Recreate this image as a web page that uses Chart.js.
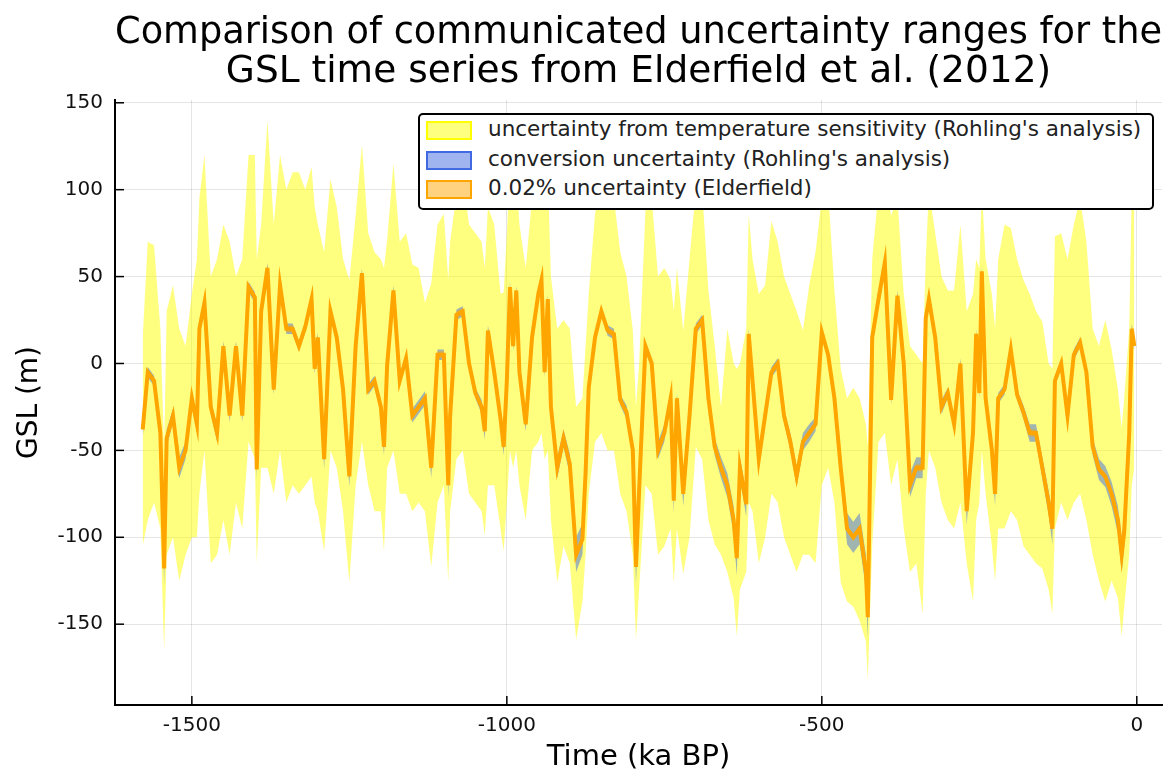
<!DOCTYPE html>
<html>
<head>
<meta charset="utf-8">
<title>GSL uncertainty ranges</title>
<script src="https://cdn.jsdelivr.net/npm/chart.js@4.4.1/dist/chart.umd.min.js"></script>
<style>
    html, body { margin: 0; padding: 0; background: #fff; }
    #wrap { position: relative; width: 1171px; height: 773px; }
    #leyenda {
        position: absolute; left: 418px; top: 113px; width: 732px; height: 93px;
        border: 2px solid #000; border-radius: 5px; background: #fff;
        font-family: 'DejaVu Sans'; font-size: 21.5px; color: #222;
    }
    .item { position: absolute; left: 6px; height: 20px; }
    .sw { position: absolute; left: 0; top: 0; width: 42px; height: 15px; border: 2px solid; }
    .lbl { position: absolute; left: 62px; top: -5px; white-space: nowrap; }
</style>
</head>
<body>
<div id="wrap">
    <canvas id="grafico" width="1171" height="773"></canvas>
    <div id="leyenda"></div>
</div>
<script>
// time in ka BP (negative = past)
const time = [
    -1578, -1570, -1560, -1550, -1544, -1540, -1530, -1520, -1510, -1500, -1492, -1488, -1480, -1470, -1460, -1450, -1440, -1430, -1420, -1410, -1400, -1397, -1390, -1380, -1370, -1360, -1350, -1340,
    -1330, -1320, -1310, -1305, -1300, -1290, -1280, -1270, -1260, -1250, -1240, -1230, -1220, -1210, -1200, -1195, -1190, -1180, -1170, -1160, -1150, -1140, -1130, -1120, -1110, -1100, -1093, -1090, -1080, -1070,
    -1060, -1050, -1040, -1035, -1030, -1020, -1010, -1005, -1000, -995, -990, -985, -980, -970, -960, -950, -945, -940, -935, -930, -920, -910, -900, -890, -880, -875, -870, -860, -850, -840, -830, -820, -810, -800, -795, -790, -780,
    -770, -760, -750, -740, -735, -730, -720, -710, -700, -690, -680, -670, -660, -650, -640, -635, -630, -620, -616, -610, -600, -590, -580, -570, -560, -550, -540, -530, -520, -510,
    -500, -490, -480, -470, -460, -450, -440, -430, -427, -420, -410, -400, -390, -380, -370, -360, -350, -340, -335, -330, -320, -310, -300, -290, -280, -270, -260, -255, -250, -246, -240, -230, -225,
    -220, -210, -200, -190, -180, -170, -160, -150, -140, -134, -130, -120, -110, -100, -90, -80, -70, -60, -50, -40, -30, -24, -20, -12, -8, -4
]
// GSL (m), Elderfield et al. (2012)
const gsl = [
    -38, -5, -10, -40, -118, -43, -30, -60, -50, -20, -35, 20, 35, -25, -40, 10, -30, 10, -30, 44, 38, -61, 30, 55, -15, 45, 20, 20,
    10, 21, 37, -3, 15, -55, 30, 15, -15, -65, 10, 52, -15, -10, -25, -48, -1, 42, -10, 3, -30, -25, -20, -60, 5, 5, -70, -30, 28, 30,
    0, -17, -25, -39, 19, -5, -32, -48, -10, 44, 10, 42, -5, -35, 15, 40, 48, -5, 37, -25, -60, -43, -58, -110, -101, -63, -14, 15, 30, 19, 17, -21, -28, -50, -117, -73, 10,
    0, -50, -40, -20, -79, -20, -75, -30, 20, 25, -20, -48, -60, -70, -90, -112, -60, -81, 17, -10, -55, -30, -5, 0, -30, -45, -65, -45, -40, -35,
    18, 5, -20, -60, -95, -100, -95, -120, -146, 15, 37, 58, -21, 39, 0, -70, -60, -60, 26, 37, 15, -25, -17, -35, 0, -85, -40, 17, -17, 53, -20, -50, -75,
    -20, -15, 8, -18, -28, -40, -40, -60, -80, -95, -10, 0, -30, 5, 12, -5, -48, -61, -65, -75, -90, -110, -97, -40, 20, 10
]
// temperature sensitivity range (upper / lower edge, m)
const tempHi = [
    15, 70, 68, 20, -50, 30, 45, 20, 10, 40, 60, 95, 120, 50, 60, 80, 70, 50, 60, 120, 120, 60, 80, 140, 80, 120, 100, 110,
    110, 100, 113, 90, 80, 64, 106, 90, 60, 48, 85, 126, 75, 64, 60, 55, 71, 115, 70, 75, 57, 55, 35, 46, 80, 86, 48, 70, 97, 108,
    80, 75, 70, 55, 90, 80, 40, 41, 75, 110, 90, 110, 80, 55, 95, 120, 125, 100, 110, 50, 20, 25, 20, -25, -20, 10, 40, 86, 105, 100, 95, 64, 50, 19, -25, 0, 88,
    95, 50, 55, 48, 30, 55, 19, 60, 100, 100, 42, 10, -25, 20, 0, -3, 0, 20, 86, 60, 40, 45, 82, 70, 50, 40, 30, 19, 45, 64,
    95, 100, 42, -3, -20, -14, -20, -35, -48, 60, 100, 110, 85, 95, 40, 10, 5, 0, 60, 100, 75, 50, 42, 42, 80, 30, 40, 60, 55, 100, 60, 40, 20,
    60, 80, 78, 60, 48, 40, 30, 24, 0, -3, 73, 75, 60, 80, 95, 70, 20, 10, 25, 8, -15, -37, -20, 20, 100, 95
]
const tempLo = [
    -105, -90, -80, -95, -165, -110, -100, -125, -110, -100, -100, -75, -50, -115, -110, -90, -110, -80, -95, -45, -55, -115, -60, -60, -75, -50, -80, -70,
    -75, -70, -65, -80, -85, -108, -50, -60, -85, -126, -70, -45, -70, -85, -85, -108, -60, -50, -75, -75, -85, -80, -85, -117, -80, -70, -126, -85, -55, -50,
    -75, -80, -85, -99, -70, -70, -95, -108, -80, -50, -60, -50, -70, -90, -50, -45, -40, -55, -50, -90, -126, -105, -115, -159, -137, -110, -75, -45, -40, -50, -50, -75, -85, -110, -159, -130, -70,
    -75, -110, -105, -95, -126, -95, -121, -100, -48, -55, -90, -104, -110, -120, -135, -157, -130, -120, -80, -85, -115, -100, -75, -80, -100, -110, -120, -110, -110, -115,
    -70, -60, -80, -126, -137, -140, -148, -160, -182, -105, -45, -40, -70, -55, -95, -120, -115, -144, -75, -50, -60, -80, -90, -95, -80, -115, -137, -90, -80, -50, -75, -105, -125,
    -95, -95, -85, -90, -105, -110, -115, -118, -130, -144, -95, -80, -90, -80, -75, -90, -110, -125, -137, -125, -135, -157, -140, -110, -70, -60
]
// conversion uncertainty (+/- m)
const convErr = [
    5, 3, 3, 5, 10, 5, 4, 6, 5, 4, 4, 3, 3, 4, 5, 3, 4, 3, 4, 3, 3, 6, 3, 3, 3, 3, 3, 3,
    3, 3, 3, 3, 3, 6, 3, 3, 3, 6, 3, 3, 3, 3, 4, 5, 3, 3, 3, 3, 4, 4, 4, 6, 3, 3, 7, 4, 3, 3,
    3, 3, 4, 5, 3, 3, 4, 5, 3, 3, 3, 3, 3, 4, 3, 3, 3, 3, 3, 4, 6, 5, 6, 10, 9, 6, 3, 3, 3, 3, 3, 3, 4, 5, 10, 7, 3,
    3, 5, 5, 3, 7, 3, 7, 4, 3, 3, 3, 5, 6, 7, 8, 10, 6, 7, 3, 3, 6, 4, 3, 3, 4, 5, 6, 5, 5, 4,
    3, 3, 3, 6, 9, 9, 9, 10, 12, 3, 3, 3, 3, 3, 3, 7, 6, 6, 3, 3, 3, 4, 3, 4, 3, 8, 5, 3, 3, 3, 3, 5, 7,
    3, 3, 3, 3, 4, 5, 5, 6, 7, 9, 3, 3, 4, 3, 3, 3, 5, 6, 6, 7, 8, 10, 9, 5, 3, 3
]
// 0.02% uncertainty (+/- m)
const elderErr = 2

const xTicks = [-1500, -1000, -500, 0]
const yTicks = [-150, -100, -50, 0, 50, 100, 150]
const titulo = ['Comparison of communicated uncertainty ranges for the', 'GSL time series from Elderfield et al. (2012)']

const pts = (ys) => time.map((t, i) => ({ x: t, y: ys[i] }))
const banda = (label, ys, fondo, borde, relleno) => ({
    label: label, data: pts(ys), fill: relleno ? '+1' : false,
    backgroundColor: fondo, borderColor: 'rgba(0,0,0,0)', borderWidth: 0,
    pointRadius: 0, tension: 0, legendBorder: borde
})

const datasets = [
    { label: 'GSL', data: pts(gsl), borderColor: '#ffa500', borderWidth: 4, pointRadius: 0, fill: false, tension: 0 },
    banda('0.02% uncertainty (Elderfield)', gsl.map(v => v + elderErr), 'rgba(255,165,0,0.5)', '#ffa500', true),
    banda('', gsl.map(v => v - elderErr), 'rgba(0,0,0,0)', null, false),
    banda("conversion uncertainty (Rohling's analysis)", gsl.map((v, i) => v + convErr[i]), 'rgba(65,105,225,0.5)', '#4169e1', true),
    banda('', gsl.map((v, i) => v - convErr[i]), 'rgba(0,0,0,0)', null, false),
    banda("uncertainty from temperature sensitivity (Rohling's analysis)", tempHi, 'rgba(255,255,0,0.5)', '#ffff00', true),
    banda('', tempLo, 'rgba(0,0,0,0)', null, false)
]

const innerTicks = {
    id: 'innerTicks',
    afterDraw(chart) {
        const { ctx, chartArea: a, scales: { x, y } } = chart
        ctx.save()
        ctx.strokeStyle = '#000'
        ctx.lineWidth = 1.5
        xTicks.forEach(v => {
            const px = x.getPixelForValue(v)
            ctx.beginPath(); ctx.moveTo(px, a.bottom); ctx.lineTo(px, a.bottom - 9); ctx.stroke()
        })
        yTicks.forEach(v => {
            const py = y.getPixelForValue(v)
            ctx.beginPath(); ctx.moveTo(a.left, py); ctx.lineTo(a.left + 9, py); ctx.stroke()
        })
        ctx.restore()
    }
}

const fuente = 'DejaVu Sans'
const chart = new Chart(document.getElementById('grafico'), {
    type: 'line',
    data: { datasets: datasets },
    plugins: [innerTicks],
    options: {
        responsive: false,
        animation: false,
        devicePixelRatio: 1,
        layout: { padding: { left: 0, right: 9, top: 0, bottom: 0 } },
        plugins: {
            legend: { display: false },
            tooltip: { enabled: false },
            title: {
                display: true, text: titulo, color: '#000', fullSize: false,
                font: { family: fuente, size: 37.5, weight: 'normal', lineHeight: 1.04 },
                padding: { top: 14, bottom: 8 }
            }
        },
        scales: {
            x: {
                type: 'linear', min: -1622, max: 40,
                afterBuildTicks: s => { s.ticks = xTicks.map(v => ({ value: v })) },
                afterFit: s => { s.height = 68 },
                grid: { color: 'rgba(0,0,0,0.1)', drawTicks: false },
                border: { color: '#000', width: 2 },
                ticks: { font: { family: fuente, size: 20 }, color: '#111', padding: 9, maxRotation: 0, callback: v => String(v) },
                title: { display: true, text: 'Time (ka BP)', color: '#000', font: { family: fuente, size: 29, lineHeight: 1 }, padding: { top: 0, bottom: 1 } }
            },
            y: {
                type: 'linear', min: -196.5, max: 151.6,
                afterBuildTicks: s => { s.ticks = yTicks.map(v => ({ value: v })) },
                afterFit: s => { s.width = 115 },
                grid: { color: 'rgba(0,0,0,0.1)', drawTicks: false },
                border: { color: '#000', width: 2 },
                ticks: { font: { family: fuente, size: 20 }, color: '#111', padding: 12, callback: v => String(v) },
                title: { display: true, text: 'GSL (m)', color: '#000', font: { family: fuente, size: 28, lineHeight: 1 }, padding: { top: 16, bottom: 0 } }
            }
        }
    }
})

// legend box built from the band datasets (yellow, blue, orange)
const leyenda = document.getElementById('leyenda')
const entradas = chart.data.datasets.filter(d => d.legendBorder).reverse()
entradas.forEach((d, i) => {
    const item = document.createElement('div')
    item.className = 'item'
    item.style.top = (6 + i * 29.5) + 'px'
    const sw = document.createElement('div')
    sw.className = 'sw'
    sw.style.background = d.backgroundColor
    sw.style.borderColor = d.legendBorder
    const lbl = document.createElement('div')
    lbl.className = 'lbl'
    lbl.textContent = d.label
    item.appendChild(sw)
    item.appendChild(lbl)
    leyenda.appendChild(item)
})
</script>
</body>
</html>
